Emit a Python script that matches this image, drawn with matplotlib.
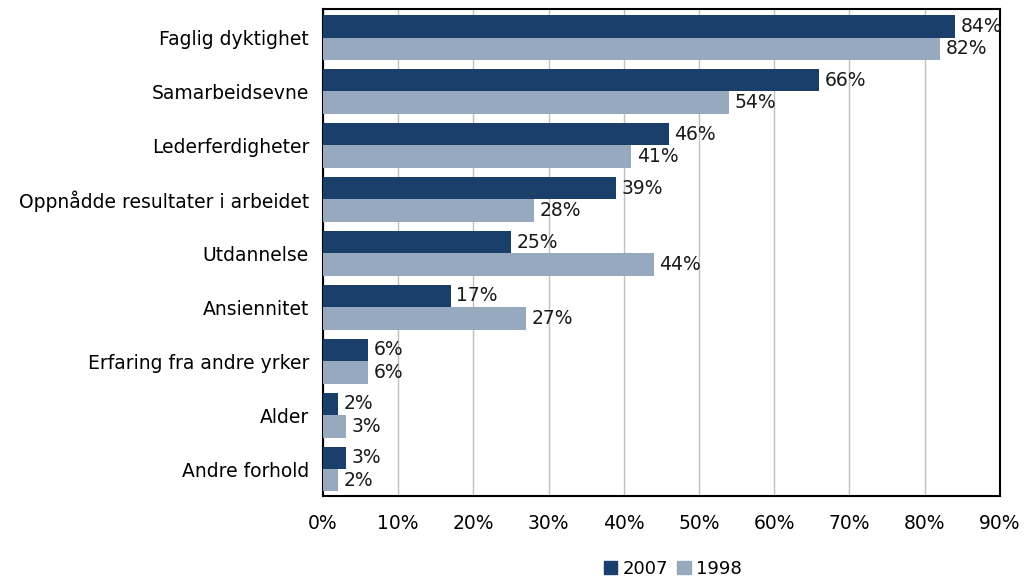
import numpy as np
import matplotlib.pyplot as plt
from matplotlib.patches import Patch

categories = ['Faglig dyktighet', 'Samarbeidsevne', 'Lederferdigheter',
              'Oppnådde resultater i arbeidet', 'Utdannelse', 'Ansiennitet',
              'Erfaring fra andre yrker', 'Alder', 'Andre forhold']
v2007 = [84, 66, 46, 39, 25, 17, 6, 2, 3]
v1998 = [82, 54, 41, 28, 44, 27, 6, 3, 2]
xticks = [0, 10, 20, 30, 40, 50, 60, 70, 80, 90]

c2007 = '#1a3f6b'
c1998 = '#97a9bf'

plt.rcParams['font.family'] = ['DejaVu Sans']
fig = plt.figure(figsize=(10.27, 5.79), dpi=100)
ax = fig.add_axes([0.3145, 0.1434, 0.659, 0.8411])

y = np.arange(len(categories))
h = 0.417
ax.barh(y - h / 2, v2007, height=h, color=c2007, zorder=3)
ax.barh(y + h / 2, v1998, height=h, color=c1998, zorder=3)

# value labels just right of each bar
for yi, a, b in zip(y, v2007, v1998):
    ax.text(a + 0.75, yi - h / 2, f'{a}%', va='center', ha='left', fontsize=13.5, color='#1a1a1a')
    ax.text(b + 0.75, yi + h / 2, f'{b}%', va='center', ha='left', fontsize=13.5, color='#1a1a1a')

ax.set_xlim(0, 90)
ax.set_ylim(len(categories) - 0.5, -0.53)
ax.set_xticks(xticks)
ax.set_xticklabels([f'{t}%' for t in xticks], fontsize=13.5)
ax.set_yticks(y)
ax.set_yticklabels(categories, fontsize=13.5)
ax.tick_params(axis='x', length=0, pad=13)
ax.tick_params(axis='y', length=0, pad=10)
ax.grid(axis='x', color='#c0c0c0', linewidth=1, zorder=0)
for s in ax.spines.values():
    s.set_color('black')
    s.set_linewidth(1.5)

handles = [Patch(color=c2007, label='2007'), Patch(color=c1998, label='1998')]
fig.legend(handles=handles, loc='center', bbox_to_anchor=(0.655, 0.018), ncol=2,
           frameon=False, fontsize=13, handlelength=0.75, handleheight=0.75,
           handletextpad=0.3, columnspacing=0.5)

fig.savefig('out.png', dpi=100)
